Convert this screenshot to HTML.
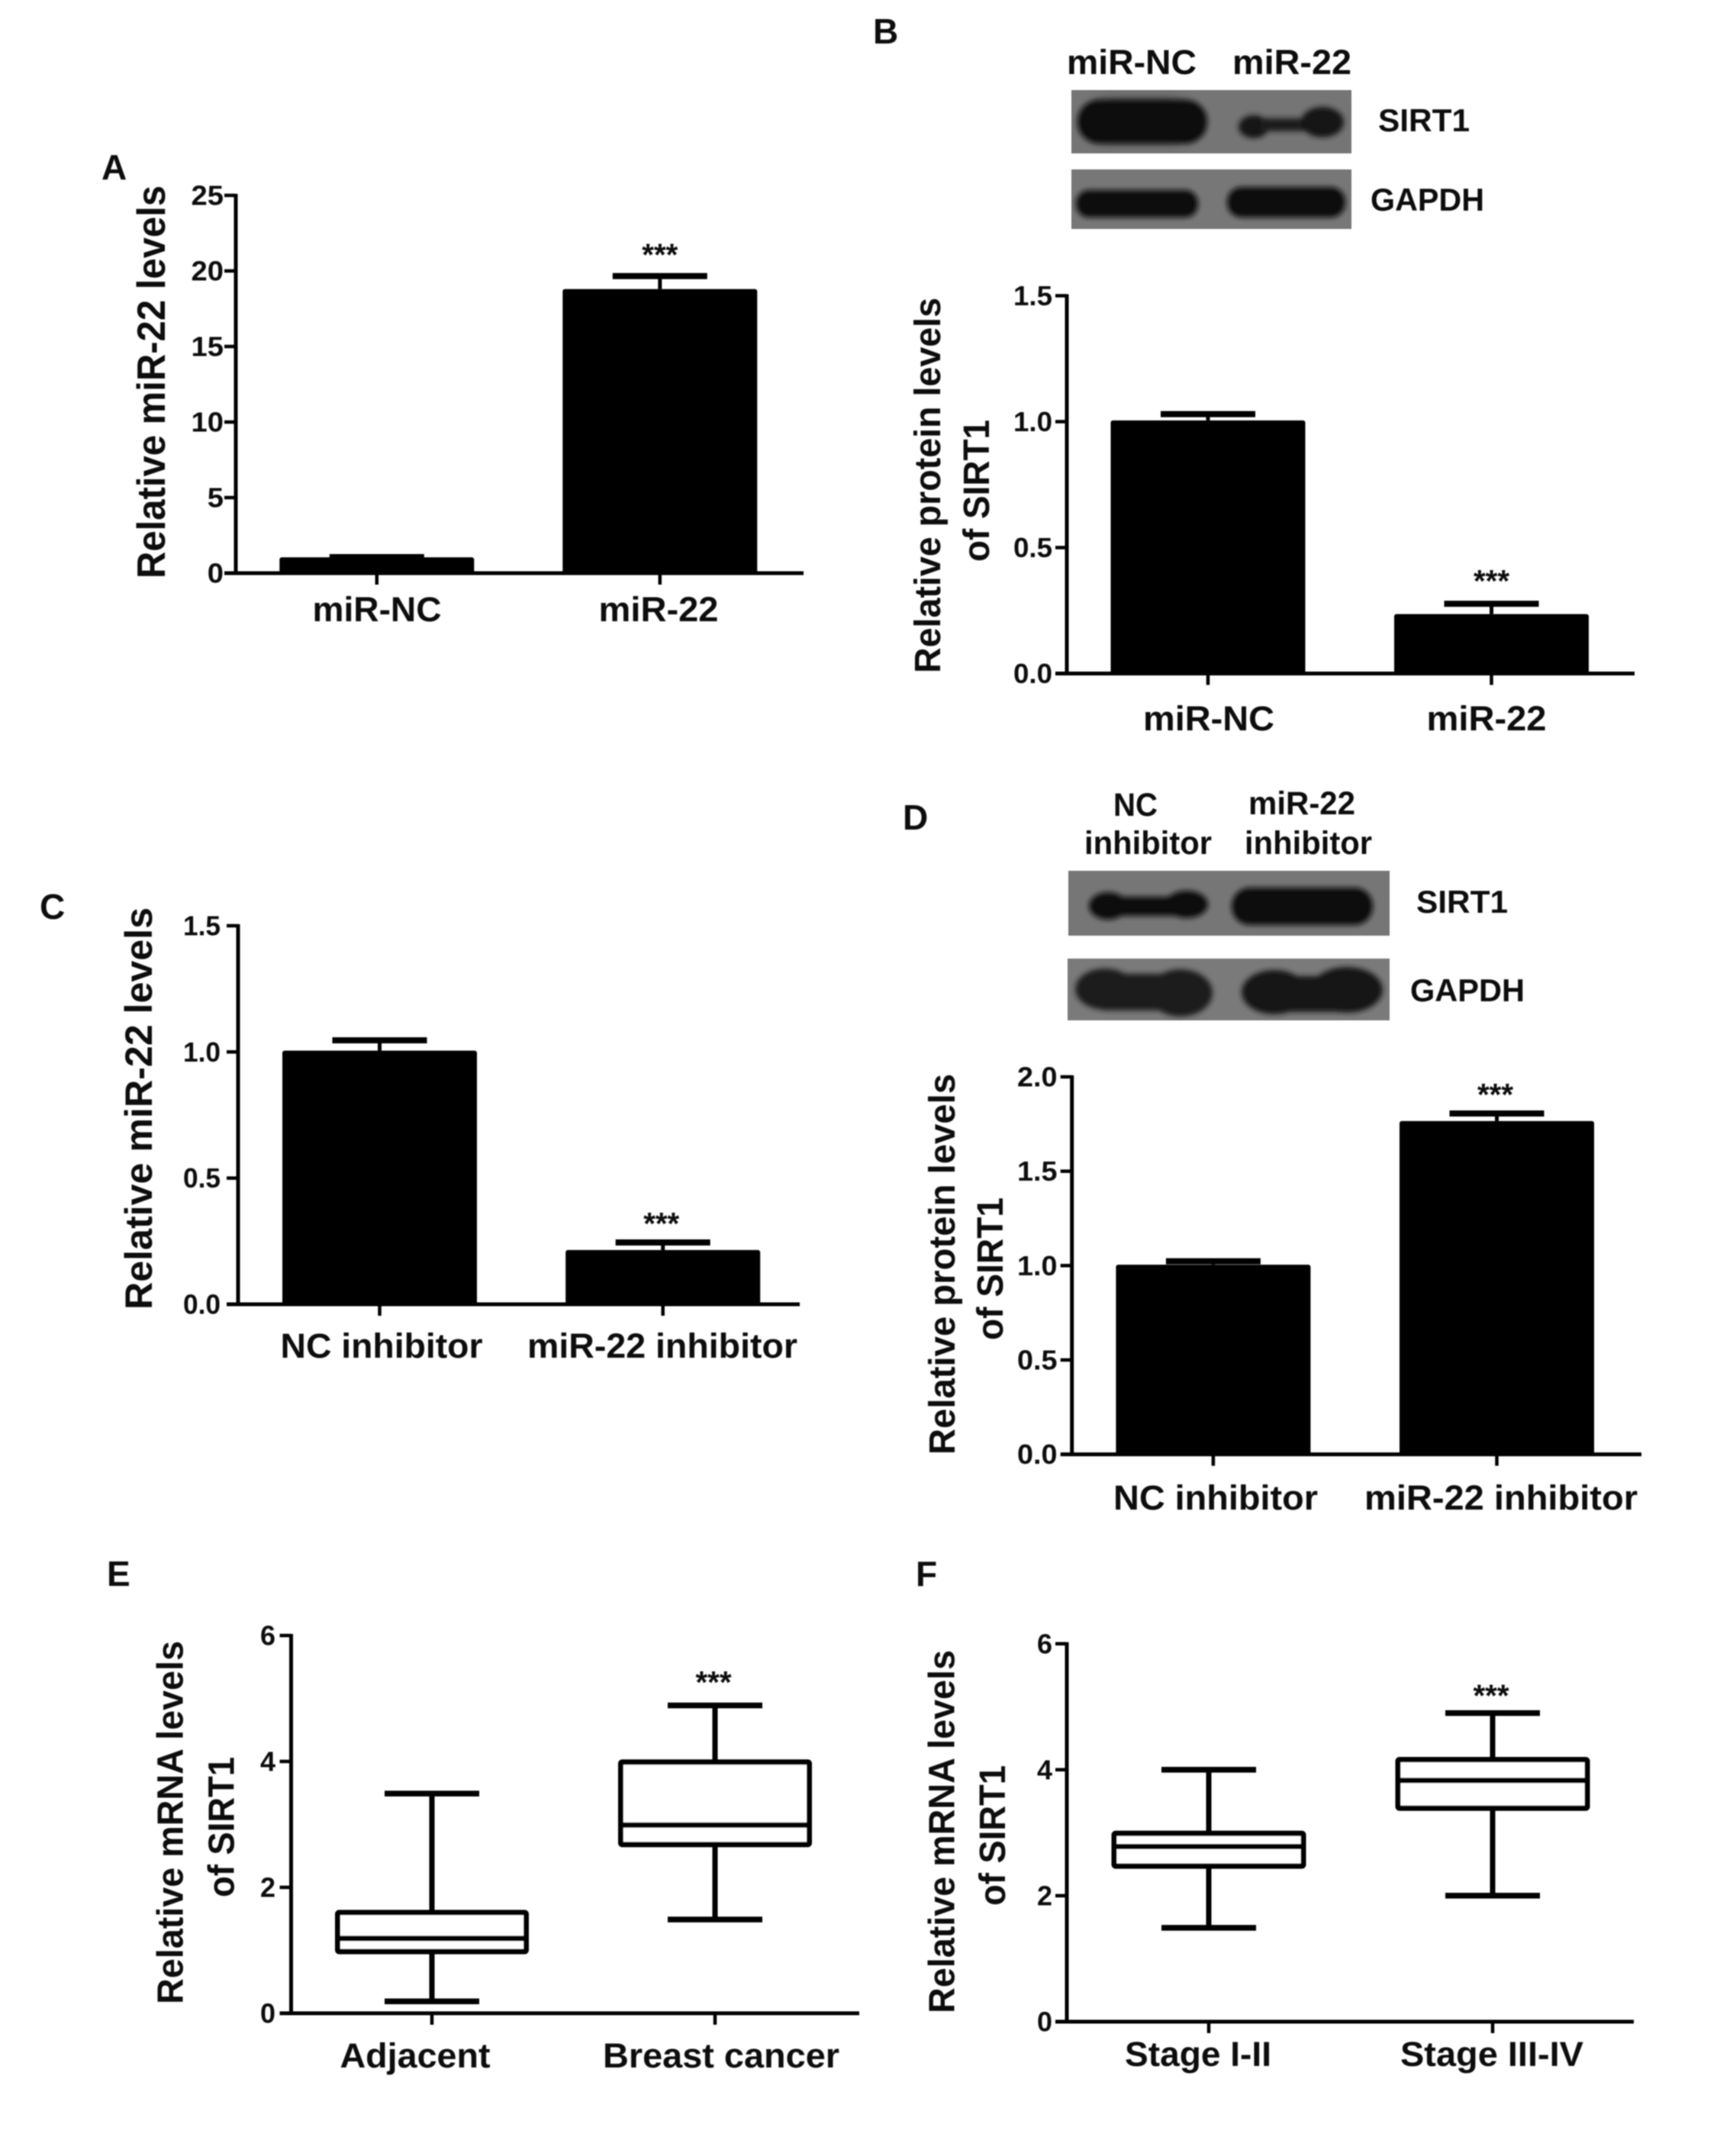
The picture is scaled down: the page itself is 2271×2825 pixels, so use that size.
<!DOCTYPE html>
<html lang="en">
<head>
<meta charset="utf-8">
<title>miR-22 and SIRT1 figure panels</title>
<style>
html,body{margin:0;padding:0;background:#fff;}
svg{display:block;}
text{font-family:"Liberation Sans",Arial,sans-serif;font-weight:bold;fill:#0a0a0a;}
</style>
</head>
<body>
<svg id="figure" xmlns="http://www.w3.org/2000/svg" width="2271" height="2825" viewBox="0 0 2271 2825">
<defs>
<filter id="soft" x="-2%" y="-2%" width="104%" height="104%"><feGaussianBlur stdDeviation="0.7"/></filter>
<filter id="band" x="-20%" y="-50%" width="140%" height="200%"><feGaussianBlur stdDeviation="3.4"/></filter>
<filter id="halo" x="-20%" y="-50%" width="140%" height="200%"><feGaussianBlur stdDeviation="6"/></filter>
<clipPath id="clip-b1"><rect x="1404" y="118" width="367" height="83"/></clipPath>
<clipPath id="clip-b2"><rect x="1404" y="222" width="367" height="78"/></clipPath>
<clipPath id="clip-d1"><rect x="1400" y="1141" width="421" height="85"/></clipPath>
<clipPath id="clip-d2"><rect x="1399" y="1256" width="422" height="81"/></clipPath>
</defs>
<rect x="0" y="0" width="2271" height="2825" fill="#ffffff"/>
<g id="root" filter="url(#soft)">

<text x="133" y="235" font-size="46">A</text>
<text x="1144" y="57" font-size="46">B</text>
<text x="52" y="1204" font-size="46">C</text>
<text x="1183" y="1087" font-size="46">D</text>
<text x="140" y="2078" font-size="46">E</text>
<text x="1200" y="2078" font-size="46">F</text>

<text transform="translate(216,758) rotate(-90)" font-size="52" textLength="515" lengthAdjust="spacingAndGlyphs">Relative miR-22 levels</text>
<text transform="translate(1232,882) rotate(-90)" font-size="48" textLength="492" lengthAdjust="spacingAndGlyphs">Relative protein levels</text>
<text transform="translate(1296,736) rotate(-90)" font-size="48" textLength="186" lengthAdjust="spacingAndGlyphs">of SIRT1</text>
<text transform="translate(199,1716) rotate(-90)" font-size="50" textLength="527" lengthAdjust="spacingAndGlyphs">Relative miR-22 levels</text>
<text transform="translate(1251,1906) rotate(-90)" font-size="48" textLength="499" lengthAdjust="spacingAndGlyphs">Relative protein levels</text>
<text transform="translate(1314,1756) rotate(-90)" font-size="48" textLength="187" lengthAdjust="spacingAndGlyphs">of SIRT1</text>
<text transform="translate(239.5,2626) rotate(-90)" font-size="48" textLength="476" lengthAdjust="spacingAndGlyphs">Relative mRNA levels</text>
<text transform="translate(306.5,2486) rotate(-90)" font-size="48" textLength="184" lengthAdjust="spacingAndGlyphs">of SIRT1</text>
<text transform="translate(1250.5,2638) rotate(-90)" font-size="48" textLength="476" lengthAdjust="spacingAndGlyphs">Relative mRNA levels</text>
<text transform="translate(1317,2497) rotate(-90)" font-size="48" textLength="184" lengthAdjust="spacingAndGlyphs">of SIRT1</text>

<g>
  <text x="1398" y="97" font-size="45" textLength="170" lengthAdjust="spacingAndGlyphs">miR-NC</text>
  <text x="1615" y="97" font-size="45" textLength="156" lengthAdjust="spacingAndGlyphs">miR-22</text>

  <rect x="1404" y="118" width="367" height="83" fill="#747474"/>
  <g clip-path="url(#clip-b1)">
    <rect x="1424" y="127" width="140" height="62" rx="30" fill="#555555" filter="url(#halo)"/>
    <rect x="1412" y="131" width="170" height="57" rx="28" fill="#0e0e0e" filter="url(#band)"/>
    <g filter="url(#band)" fill="#121212">
      <ellipse cx="1643" cy="166" rx="20" ry="15"/>
      <rect x="1652" y="155" width="64" height="17" fill="#1e1e1e"/>
      <ellipse cx="1733" cy="160" rx="28" ry="20"/>
    </g>
  </g>

  <rect x="1404" y="222" width="367" height="78" fill="#777777"/>
  <g clip-path="url(#clip-b2)">
    <rect x="1410" y="249" width="160" height="36" rx="17" fill="#111111" filter="url(#band)"/>
    <rect x="1608" y="245" width="155" height="40" rx="19" fill="#111111" filter="url(#band)"/>
  </g>
  <text x="1806" y="172" font-size="42" textLength="120" lengthAdjust="spacingAndGlyphs">SIRT1</text>
  <text x="1796" y="276" font-size="42" textLength="149" lengthAdjust="spacingAndGlyphs">GAPDH</text>
</g>

<g>
  <text x="1459" y="1069" font-size="43" textLength="58" lengthAdjust="spacingAndGlyphs">NC</text>
  <text x="1421" y="1119" font-size="43" textLength="167" lengthAdjust="spacingAndGlyphs">inhibitor</text>
  <text x="1636" y="1067" font-size="43" textLength="140" lengthAdjust="spacingAndGlyphs">miR-22</text>
  <text x="1631" y="1119" font-size="43" textLength="167" lengthAdjust="spacingAndGlyphs">inhibitor</text>

  <rect x="1400" y="1141" width="421" height="85" fill="#767676"/>
  <g clip-path="url(#clip-d1)">
    <g filter="url(#band)" fill="#101010">
      <ellipse cx="1452" cy="1187" rx="25" ry="18"/>
      <rect x="1445" y="1175" width="115" height="25"/>
      <ellipse cx="1555" cy="1185" rx="28" ry="18"/>
    </g>
    <rect x="1614" y="1163" width="185" height="49" rx="24" fill="#0e0e0e" filter="url(#band)"/>
  </g>

  <rect x="1399" y="1256" width="422" height="81" fill="#7a7a7a"/>
  <g clip-path="url(#clip-d2)">
    <g filter="url(#band)" fill="#1b1b1b">
      <ellipse cx="1448" cy="1296" rx="39" ry="27"/>
      <rect x="1445" y="1276" width="106" height="48"/>
      <ellipse cx="1547" cy="1301" rx="42" ry="31"/>
    </g>
    <g filter="url(#band)" fill="#191919">
      <ellipse cx="1670" cy="1300" rx="43" ry="29"/>
      <rect x="1667" y="1279" width="101" height="47"/>
      <ellipse cx="1765" cy="1297" rx="47" ry="30"/>
    </g>
  </g>
  <text x="1856" y="1196" font-size="42" textLength="120" lengthAdjust="spacingAndGlyphs">SIRT1</text>
  <text x="1848" y="1312" font-size="42" textLength="150" lengthAdjust="spacingAndGlyphs">GAPDH</text>
</g>

<g id="charts"></g>
</g>
</svg>
<script>
// Panel A
const aCategories = ['miR-NC', 'miR-22'];
const aMeans = [1.05, 18.8];
const aErrors = [0.01, 0.86];
const aTickLabels = ['0', '5', '10', '15', '20', '25'];
// Panel B
const bCategories = ['miR-NC', 'miR-22'];
const bMeans = [1.005, 0.236];
const bErrors = [0.025, 0.041];
const bTickLabels = ['0.0', '0.5', '1.0', '1.5'];
// Panel C
const cCategories = ['NC inhibitor', 'miR-22 inhibitor'];
const cMeans = [1.005, 0.215];
const cErrors = [0.041, 0.03];
const cTickLabels = ['0.0', '0.5', '1.0', '1.5'];
// Panel D
const dCategories = ['NC inhibitor', 'miR-22 inhibitor'];
const dMeans = [1.005, 1.766];
const dErrors = [0.018, 0.04];
const dTickLabels = ['0.0', '0.5', '1.0', '1.5', '2.0'];
// Panel E
const eCategories = ['Adjacent', 'Breast cancer'];
const eLow = [0.19, 1.49];
const eQ1 = [0.98, 2.68];
const eMedian = [1.19, 2.99];
const eQ3 = [1.6, 3.99];
const eHigh = [3.49, 4.89];
const eTickLabels = ['0', '2', '4', '6'];
// Panel F
const fCategories = ['Stage I-II', 'Stage III-IV'];
const fLow = [1.49, 2.0];
const fQ1 = [2.47, 3.39];
const fMedian = [2.78, 3.83];
const fQ3 = [2.99, 4.16];
const fHigh = [4.0, 4.9];
const fTickLabels = ['0', '2', '4', '6'];

const SVG_NS = 'http://www.w3.org/2000/svg';
const INK = '#000000';
const chartsRoot = document.getElementById('charts');

function make(tag, parent, name) {
  const el = document.createElementNS(SVG_NS, tag);
  
  
  parent.appendChild(el);
  return el;
}

function line(parent, name, x1, y1, x2, y2, width) {
  const el = make('line', parent, name);
  el.setAttribute('x1', x1);
  el.setAttribute('y1', y1);
  el.setAttribute('x2', x2);
  el.setAttribute('y2', y2);
  el.setAttribute('stroke', INK);
  el.setAttribute('stroke-width', width);
  return el;
}

function label(parent, name, str, x, y, anchor, size, width) {
  const el = make('text', parent, name);
  el.setAttribute('x', x);
  el.setAttribute('y', y);
  el.setAttribute('text-anchor', anchor);
  el.setAttribute('font-size', size);
  el.setAttribute('textLength', width);
  el.setAttribute('lengthAdjust', 'spacingAndGlyphs');
  el.textContent = str;
  return el;
}

function tickTextWidth(str, size, scale) {
  let em = 0;
  for (const ch of str) em += ch === '.' ? 0.278 : 0.556;
  return em * size * scale;
}

function drawAxes(group, g, categories, tickLabels) {
  const maxV = Number(tickLabels[tickLabels.length - 1]);
  const yOf = v => g.y0 - (v / maxV) * (g.y0 - g.yTop);
  const xOf = i => g.firstX + i * g.stepX;
  line(group, 'y-axis', g.axisX, g.yTop - 2, g.axisX, g.y0 + 2, 5);
  line(group, 'x-axis', g.axisX - 15, g.y0, g.xEnd, g.y0, 5);
  tickLabels.forEach(t => {
    const v = Number(t);
    const y = yOf(v);
    if (v !== 0) line(group, 'y-tick', g.axisX - 15, y, g.axisX, y, 4.5);
    label(group, 'y-tick-label', t, g.tickRight, y + 12.5, 'end', 36, tickTextWidth(t, 36, g.tickScale));
  });
  categories.forEach((c, i) => {
    line(group, 'x-tick', xOf(i), g.y0, xOf(i), g.y0 + 15, 4.5);
    label(group, 'x-tick-label', c, g.labelX[i], g.labelY, 'middle', 45, g.labelW[i]);
  });
  return { yOf, xOf };
}

function drawStars(group, x, y) {
  label(group, 'significance-stars', '***', x, y, 'middle', 41, 47);
}

function drawBarPanel(name, g, categories, means, errors, tickLabels) {
  const group = make('g', chartsRoot, name);
  const { yOf, xOf } = drawAxes(group, g, categories, tickLabels);
  means.forEach((m, i) => {
    const x = xOf(i);
    const top = yOf(m + errors[i]);
    line(group, 'error-bar-stem', x, yOf(m), x, top, 5);
    line(group, 'error-bar-cap', x - 62, top, x + 62, top, 8);
    const bar = make('rect', group, 'bar-' + categories[i].toLowerCase().replace(/\s+/g, '-'));
    bar.setAttribute('x', x - g.barW / 2);
    bar.setAttribute('y', yOf(m));
    bar.setAttribute('width', g.barW);
    bar.setAttribute('height', g.y0 - yOf(m));
    bar.setAttribute('rx', 3);
    bar.setAttribute('fill', INK);
  });
  const s = g.starIndex;
  drawStars(group, xOf(s) + g.starDx, yOf(means[s] + errors[s]) - g.starGap);
}

function drawBoxPanel(name, g, categories, low, q1, median, q3, high, tickLabels) {
  const group = make('g', chartsRoot, name);
  const { yOf, xOf } = drawAxes(group, g, categories, tickLabels);
  categories.forEach((c, i) => {
    const x = xOf(i);
    line(group, 'whisker-upper', x, yOf(high[i]), x, yOf(q3[i]), 7);
    line(group, 'whisker-lower', x, yOf(q1[i]), x, yOf(low[i]), 7);
    line(group, 'whisker-cap-upper', x - 62, yOf(high[i]), x + 62, yOf(high[i]), 7.5);
    line(group, 'whisker-cap-lower', x - 62, yOf(low[i]), x + 62, yOf(low[i]), 7.5);
    const box = make('rect', group, 'box-' + c.toLowerCase().replace(/\s+/g, '-'));
    box.setAttribute('x', x - g.boxW / 2);
    box.setAttribute('y', yOf(q3[i]));
    box.setAttribute('width', g.boxW);
    box.setAttribute('height', yOf(q1[i]) - yOf(q3[i]));
    box.setAttribute('rx', 2);
    box.setAttribute('fill', '#ffffff');
    box.setAttribute('stroke', INK);
    box.setAttribute('stroke-width', 7);
    line(group, 'median-line', x - g.boxW / 2, yOf(median[i]), x + g.boxW / 2, yOf(median[i]), 7);
  });
  const s = g.starIndex;
  drawStars(group, xOf(s) + g.starDx, yOf(high[s]) - g.starGap);
}

drawBarPanel('bar-chart-a', {
  axisX: 309, yTop: 256, y0: 751, xEnd: 1053, tickRight: 293, tickScale: 1.06,
  firstX: 493.8, stepX: 371, barW: 255,
  labelX: [494, 863], labelW: [169, 157], labelY: 814,
  starIndex: 1, starDx: 0, starGap: 14
}, aCategories, aMeans, aErrors, aTickLabels);

drawBarPanel('bar-chart-b', {
  axisX: 1398, yTop: 387.5, y0: 882.5, xEnd: 2142, tickRight: 1379, tickScale: 1.02,
  firstX: 1583, stepX: 371.5, barW: 255,
  labelX: [1584, 1948], labelW: [172, 157], labelY: 957,
  starIndex: 1, starDx: 0, starGap: 16
}, bCategories, bMeans, bErrors, bTickLabels);

drawBarPanel('bar-chart-c', {
  axisX: 312, yTop: 1213, y0: 1709, xEnd: 1048, tickRight: 289, tickScale: 0.98,
  firstX: 497.5, stepX: 371.2, barW: 255,
  labelX: [500, 868], labelW: [265, 354], labelY: 1779,
  starIndex: 1, starDx: -2, starGap: 11
}, cCategories, cMeans, cErrors, cTickLabels);

drawBarPanel('bar-chart-d', {
  axisX: 1404.7, yTop: 1411, y0: 1905.6, xEnd: 2151, tickRight: 1385.5, tickScale: 1.05,
  firstX: 1589.9, stepX: 371.6, barW: 255,
  labelX: [1593, 1967], labelW: [268, 358], labelY: 1978,
  starIndex: 1, starDx: -2, starGap: 11
}, dCategories, dMeans, dErrors, dTickLabels);

drawBoxPanel('box-plot-e', {
  axisX: 381.5, yTop: 2143, y0: 2638, xEnd: 1126, tickRight: 361, tickScale: 1.0,
  firstX: 566, stepX: 371, boxW: 247,
  labelX: [544, 945], labelW: [197, 310], labelY: 2709,
  starIndex: 1, starDx: -2, starGap: 16.5
}, eCategories, eLow, eQ1, eMedian, eQ3, eHigh, eTickLabels);

drawBoxPanel('box-plot-f', {
  axisX: 1398, yTop: 2153.8, y0: 2649, xEnd: 2141, tickRight: 1379, tickScale: 1.0,
  firstX: 1584, stepX: 372, boxW: 248,
  labelX: [1570, 1955], labelW: [192, 240], labelY: 2707,
  starIndex: 1, starDx: -2, starGap: 9
}, fCategories, fLow, fQ1, fMedian, fQ3, fHigh, fTickLabels);
</script>
</body>
</html>
